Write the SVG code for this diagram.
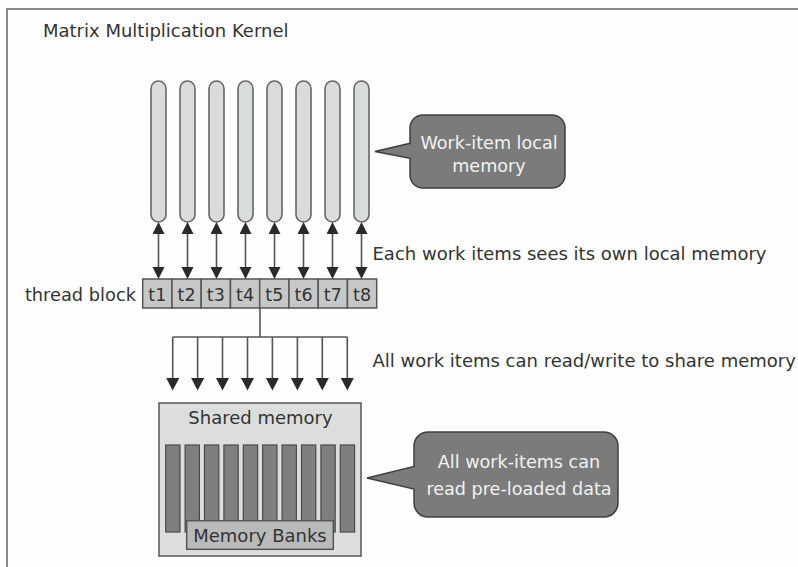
<svg xmlns="http://www.w3.org/2000/svg" width="798" height="567" viewBox="0 0 798 567">
<style>
.lbl{font-family:"DejaVu Sans",Verdana,sans-serif;fill:#333;}
.pill{fill:#d9dcdb;stroke:#666;stroke-width:1.6;}
.cell{fill:#c6c7c7;stroke:#555;stroke-width:1.5;}
.bar{fill:#7f7f7f;stroke:#4a4a4a;stroke-width:1.2;}
.shaft{stroke:#555;stroke-width:1.6;fill:none;}
.call{fill:#7b7b7b;stroke:#3f3f3f;stroke-width:1.5;}
.ctext{font-family:"DejaVu Sans",Verdana,sans-serif;fill:#f2f2f2;text-anchor:middle;}
.ttext{font-family:"DejaVu Sans",Verdana,sans-serif;fill:#333;text-anchor:middle;font-size:17.5px;}
</style>
<defs>
<marker id="ah" markerUnits="userSpaceOnUse" markerWidth="13" markerHeight="13" refX="0" refY="6" orient="auto-start-reverse">
<path d="M0,0 L12,6 L0,12 Z" fill="#2a2a2a"/>
</marker>
<marker id="ah2" markerUnits="userSpaceOnUse" markerWidth="14" markerHeight="14" refX="0" refY="6.5" orient="auto">
<path d="M0,0 L12.5,6.5 L0,13 Z" fill="#2a2a2a"/>
</marker>
</defs>
<rect width="798" height="567" fill="#fefefe"/>
<path d="M7,567 V9 H798" fill="none" stroke="#8a8a8a" stroke-width="2"/>
<g id="title"><text class="lbl" x="43" y="37" font-size="18">Matrix Multiplication Kernel</text></g>
<g id="local-memories">
<rect class="pill" x="151" y="81" width="15" height="141" rx="7.5"/>
<rect class="pill" x="180" y="81" width="15" height="141" rx="7.5"/>
<rect class="pill" x="209" y="81" width="15" height="141" rx="7.5"/>
<rect class="pill" x="238" y="81" width="15" height="141" rx="7.5"/>
<rect class="pill" x="267" y="81" width="15" height="141" rx="7.5"/>
<rect class="pill" x="296" y="81" width="15" height="141" rx="7.5"/>
<rect class="pill" x="325" y="81" width="15" height="141" rx="7.5"/>
<rect class="pill" x="354" y="81" width="15" height="141" rx="7.5"/>
</g>
<g id="thread-block">
<text class="lbl" x="136" y="301" font-size="17.8" text-anchor="end">thread block</text>
<rect class="cell" x="142.7" y="279" width="29.25" height="29"/>
<rect class="cell" x="171.95" y="279" width="29.25" height="29"/>
<rect class="cell" x="201.2" y="279" width="29.25" height="29"/>
<rect class="cell" x="230.45" y="279" width="29.25" height="29"/>
<rect class="cell" x="259.7" y="279" width="29.25" height="29"/>
<rect class="cell" x="288.95" y="279" width="29.25" height="29"/>
<rect class="cell" x="318.2" y="279" width="29.25" height="29"/>
<rect class="cell" x="347.45" y="279" width="29.25" height="29"/>
<text class="ttext" x="157.3" y="301">t1</text>
<text class="ttext" x="186.6" y="301">t2</text>
<text class="ttext" x="215.8" y="301">t3</text>
<text class="ttext" x="245.1" y="301">t4</text>
<text class="ttext" x="274.3" y="301">t5</text>
<text class="ttext" x="303.6" y="301">t6</text>
<text class="ttext" x="332.8" y="301">t7</text>
<text class="ttext" x="362.1" y="301">t8</text>
</g>
<g id="shared-memory">
<rect x="159" y="403" width="202" height="153" fill="#dcdedd" stroke="#555" stroke-width="1.5"/>
<text class="lbl" x="260.5" y="424" font-size="18" text-anchor="middle">Shared memory</text>
<rect class="bar" x="165.7" y="445" width="14.3" height="87"/>
<rect class="bar" x="185.1" y="445" width="14.3" height="87"/>
<rect class="bar" x="204.5" y="445" width="14.3" height="87"/>
<rect class="bar" x="223.9" y="445" width="14.3" height="87"/>
<rect class="bar" x="243.3" y="445" width="14.3" height="87"/>
<rect class="bar" x="262.7" y="445" width="14.3" height="87"/>
<rect class="bar" x="282.1" y="445" width="14.3" height="87"/>
<rect class="bar" x="301.5" y="445" width="14.3" height="87"/>
<rect class="bar" x="320.9" y="445" width="14.3" height="87"/>
<rect class="bar" x="340.3" y="445" width="14.3" height="87"/>
</g>
<g id="memory-banks">
<rect x="186.7" y="520.7" width="146.6" height="28.6" fill="#b9baba" stroke="#555" stroke-width="1.5"/>
<text class="lbl" x="260" y="542" font-size="18" text-anchor="middle">Memory Banks</text>
</g>
<g id="callout-local">
<path class="call" d="M423,115 H552 A13,13 0 0 1 565,128 V175 A13,13 0 0 1 552,188 H423 A13,13 0 0 1 410,175 V158.3 L375,151.5 L410,143.3 V128 A13,13 0 0 1 423,115 Z"/>
<text class="ctext" x="489" y="149" font-size="17.6">Work-item local</text>
<text class="ctext" x="489" y="172" font-size="17.6">memory</text>
</g>
<g id="callout-shared">
<path class="call" d="M428,432 H604 A14,14 0 0 1 618,446 V503 A14,14 0 0 1 604,517 H428 A14,14 0 0 1 414,503 V489 L367,478 L414,466.5 V446 A14,14 0 0 1 428,432 Z"/>
<text class="ctext" x="519" y="467.5" font-size="17.6">All work-items can</text>
<text class="ctext" x="519" y="495" font-size="17.6">read pre-loaded data</text>
</g>
<g id="labels">
<text class="lbl" x="372.5" y="260" font-size="18">Each work items sees its own local memory</text>
<text class="lbl" x="372.5" y="367" font-size="18">All work items can read/write to share memory</text>
</g>
<g id="connectors">
<path class="shaft" d="M158.5,234 V267" marker-start="url(#ah)" marker-end="url(#ah)"/>
<path class="shaft" d="M187.5,234 V267" marker-start="url(#ah)" marker-end="url(#ah)"/>
<path class="shaft" d="M216.5,234 V267" marker-start="url(#ah)" marker-end="url(#ah)"/>
<path class="shaft" d="M245.5,234 V267" marker-start="url(#ah)" marker-end="url(#ah)"/>
<path class="shaft" d="M274.5,234 V267" marker-start="url(#ah)" marker-end="url(#ah)"/>
<path class="shaft" d="M303.5,234 V267" marker-start="url(#ah)" marker-end="url(#ah)"/>
<path class="shaft" d="M332.5,234 V267" marker-start="url(#ah)" marker-end="url(#ah)"/>
<path class="shaft" d="M361.5,234 V267" marker-start="url(#ah)" marker-end="url(#ah)"/>
<path class="shaft" d="M260,308 V337 M172.7,337 H347.3"/>
<path class="shaft" d="M172.7,337 V378" marker-end="url(#ah2)"/>
<path class="shaft" d="M197.6,337 V378" marker-end="url(#ah2)"/>
<path class="shaft" d="M222.5,337 V378" marker-end="url(#ah2)"/>
<path class="shaft" d="M247.5,337 V378" marker-end="url(#ah2)"/>
<path class="shaft" d="M272.4,337 V378" marker-end="url(#ah2)"/>
<path class="shaft" d="M297.4,337 V378" marker-end="url(#ah2)"/>
<path class="shaft" d="M322.3,337 V378" marker-end="url(#ah2)"/>
<path class="shaft" d="M347.3,337 V378" marker-end="url(#ah2)"/>
</g>
</svg>
